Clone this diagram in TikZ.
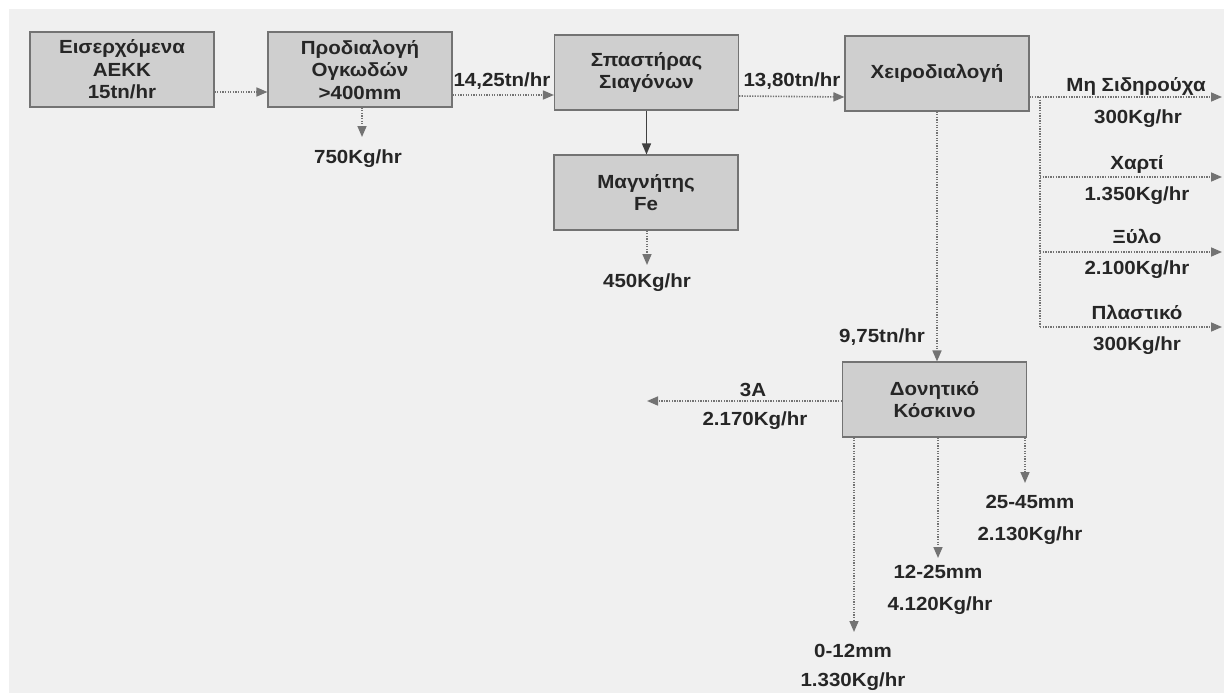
\documentclass[tikz,border=0pt]{standalone}
\usepackage{fontspec}
\setmainfont{Liberation Sans}[FakeStretch=1.08]
\usetikzlibrary{arrows.meta}
\begin{document}
\begin{tikzpicture}[x=1pt,y=-1pt,
  box/.style={draw=black!55, fill=black!19, line width=1.1pt, minimum width=184pt,
    minimum height=75pt, align=center, inner sep=0pt,
    font=\fontsize{19}{22.5}\selectfont\bfseries, text=black!85},
  lbl/.style={anchor=base, inner sep=0pt, font=\fontsize{19}{22.5}\selectfont\bfseries, text=black!85},
  flow/.style={draw=black!55, line width=1.6pt, dash pattern=on 1.3pt off 1.3pt, -{Triangle[length=11pt,width=9pt]}},
  dotline/.style={draw=black!55, line width=1.6pt, dash pattern=on 1.3pt off 1.3pt},
  strong/.style={draw=black!75, line width=1.4pt, -{Triangle[length=11pt,width=9pt]}}]
\useasboundingbox (0,0) rectangle (1224,693);
\fill[black!6] (9,9) rectangle (1224,693);

% boxes
\node[box] (b1) at (122,69.5) {Εισερχόμενα\\ΑΕΚΚ\\15tn/hr};
\node[box] (b2) at (360,69.5) {Προδιαλογή\\Ογκωδών\\>400mm};
\node[box] (b3) at (646.5,72.5) {Σπαστήρας\\Σιαγόνων};
\node[box] (b4) at (646,192.5) {Μαγνήτης\\Fe};
\node[box] (b5) at (937,73.5) {Χειροδιαλογή};
\node[box] (b6) at (934.5,399.5) {Δονητικό\\Κόσκινο};

% free ends
\coordinate (d2) at (362,137);
\coordinate (d4) at (647,265);
\coordinate (j1) at (1040,97);
\coordinate (j2) at (1040,177);
\coordinate (j3) at (1040,252);
\coordinate (j4) at (1040,327);
\coordinate (e1) at (1222,97);
\coordinate (e2) at (1222,177);
\coordinate (e3) at (1222,252);
\coordinate (e4) at (1222,327);
\coordinate (w6) at (647,401);
\coordinate (s1) at (854,632);
\coordinate (s2) at (938,558);
\coordinate (s3) at (1025,483);

% connectors
\draw[flow] ([yshift=-22.5pt]b1.east) -- ([yshift=-22.5pt]b2.west);
\draw[flow] ([yshift=-25.5pt]b2.east) -- ([yshift=-22.5pt]b3.west);
\draw[flow] ([yshift=-23.5pt]b3.east) -- ([yshift=-23.5pt]b5.west);
\draw[flow] (b2.south -| d2) -- (d2);
\draw[strong] (b3.south) -- (b3.south |- b4.north);
\draw[flow] (b4.south -| d4) -- (d4);
\draw[dotline] ([yshift=-23.5pt]b5.east) -- (j1);
\draw[dotline] (j1) -- (j4);
\draw[flow] (j1) -- (e1);
\draw[flow] (j2) -- (e2);
\draw[flow] (j3) -- (e3);
\draw[flow] (j4) -- (e4);
\draw[flow] (b5.south) -- (b5.south |- b6.north);
\draw[flow] ([yshift=-1.5pt]b6.west) -- (w6);
\draw[flow] (b6.south -| s1) -- (s1);
\draw[flow] (b6.south -| s2) -- (s2);
\draw[flow] (b6.south -| s3) -- (s3);

% labels
\node[lbl] (t750) at (358,163) {750Kg/hr};
\node[lbl] (t1425) at (502,87) {14,25tn/hr};
\node[lbl] (t1380) at (792,87) {13,80tn/hr};
\node[lbl] (t450) at (647,287) {450Kg/hr};
\node[lbl] (tmh) at (1136,92) {Μη Σιδηρούχα};
\node[lbl] (tmhk) at (1138,123) {300Kg/hr};
\node[lbl] (tch) at (1137,169) {Χαρτί};
\node[lbl] (tchk) at (1137,200) {1.350Kg/hr};
\node[lbl] (tx) at (1137,243) {Ξύλο};
\node[lbl] (txk) at (1137,274) {2.100Kg/hr};
\node[lbl] (tp) at (1137,319) {Πλαστικό};
\node[lbl] (tpk) at (1137,350) {300Kg/hr};
\node[lbl] (t975) at (882,342) {9,75tn/hr};
\node[lbl] (t3a) at (753,396) {3A};
\node[lbl] (t3ak) at (755,425) {2.170Kg/hr};
\node[lbl] (t2545) at (1030,508) {25-45mm};
\node[lbl] (t2545k) at (1030,540) {2.130Kg/hr};
\node[lbl] (t1225) at (938,578) {12-25mm};
\node[lbl] (t1225k) at (940,610) {4.120Kg/hr};
\node[lbl] (t012) at (853,657) {0-12mm};
\node[lbl] (t012k) at (853,686) {1.330Kg/hr};
\end{tikzpicture}
\end{document}
